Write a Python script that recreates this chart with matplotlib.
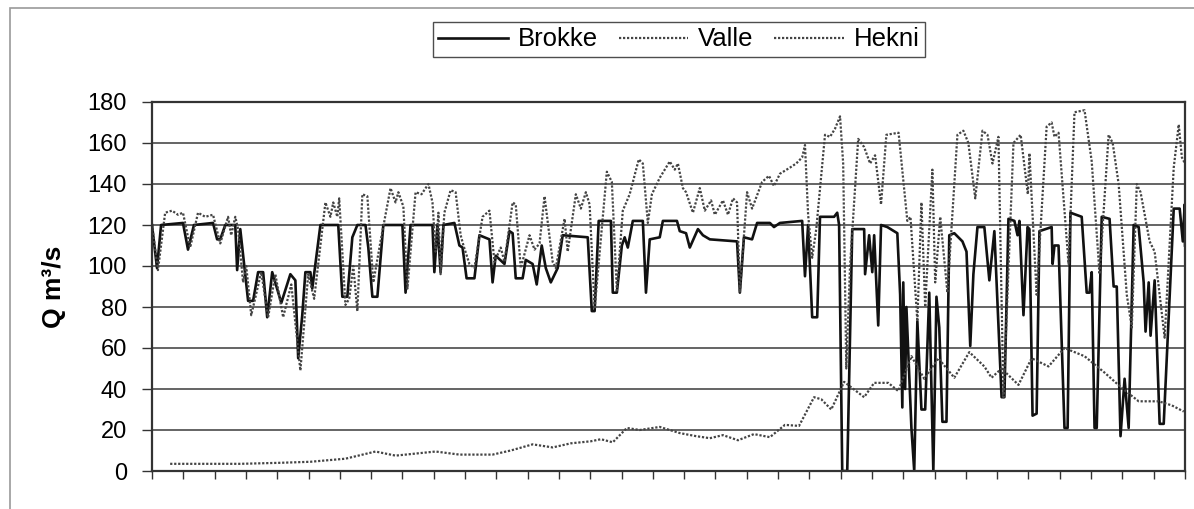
import matplotlib
matplotlib.use("Agg")
import matplotlib.pyplot as plt
from matplotlib.patches import Rectangle

plt.rcParams['font.family'] = ['Liberation Sans', 'DejaVu Sans']

# ---- data (x = day index, y = discharge m3/s) ----
brokke_x = [0, 1.6, 2.9, 9.9, 11.5, 13.4, 19.5, 20.8, 21.8, 23.4, 26.6, 27.2, 28.2, 30.7, 32.3,
            33.9, 35.5, 36.8, 38.4, 41.3, 44.2, 45.8, 46.7, 48.0, 49.0, 50.6, 51.2, 53.8, 59.5,
            60.8, 62.4, 64.0, 65.6, 68.2, 69.1, 70.4, 72.0, 73.9, 80.0, 81.0, 82.6, 89.6, 90.2,
            91.2, 92.2, 93.1, 96.6, 98.2, 99.2, 100.5, 103.0, 104.6, 107.8, 108.8, 109.8, 112.6,
            114.2, 115.2, 116.2, 118.4, 119.4, 121.6, 122.9, 124.5, 125.8, 127.4, 129.6, 131.2,
            139.2, 140.5, 141.4, 142.7, 146.6, 147.2, 148.5, 150.1, 151.0, 152.0, 153.6, 156.8,
            157.8, 159.0, 162.2, 163.2, 167.7, 168.6, 170.6, 171.8, 174.4, 176.0, 178.2, 186.9,
            187.8, 189.1, 191.7, 193.3, 197.4, 198.7, 200.6, 207.7, 208.6, 209.6, 210.9, 212.5,
            213.4, 217.9, 218.9, 219.5, 220.5, 222.1, 223.7, 227.5, 227.8, 229.1, 230.1, 230.7,
            232.0, 232.9, 234.9, 238.1, 239.0, 239.7, 240.0, 240.6, 241.0, 242.6, 243.5, 244.5,
            245.8, 247.0, 248.3, 249.6, 250.6, 251.5, 252.5, 253.8, 254.7, 256.3, 258.9, 260.2,
            261.4, 262.4, 263.7, 265.9, 267.5, 269.1, 271.4, 272.3, 273.6, 275.5, 276.5, 277.1,
            278.4, 279.7, 280.3, 281.3, 282.6, 283.5, 287.4, 287.7, 288.3, 289.6, 291.5, 292.5,
            293.4, 297.0, 298.6, 299.5, 300.2, 301.1, 301.8, 303.4, 305.9, 307.2, 308.2, 309.4,
            310.7, 312.0, 313.6, 315.2, 316.8, 317.4, 318.4, 319.0, 320.3, 321.9, 323.2, 326.4,
            328.3, 329.3, 329.9, 330.0]
brokke_y = [120, 99, 120, 121, 108, 120, 121, 113, 113, 120, 120, 98, 118, 83, 83,
            97, 97, 75, 97, 82, 96, 93, 55, 76, 97, 97, 89, 120, 120,
            85, 85, 114, 120, 120, 109, 85, 85, 120, 120, 87, 120, 120, 97,
            120, 97, 120, 121, 110, 109, 94, 94, 115, 113, 92, 105, 101,
            117, 116, 94, 94, 103, 101, 91, 110, 99, 92, 99, 115,
            114, 78, 78, 122, 122, 87, 87, 110, 114, 109, 122, 122,
            87, 113, 114, 122, 122, 117, 116, 109, 118, 115, 113, 112,
            87, 114, 113, 121, 121, 119, 121, 122, 95, 120, 75, 75,
            124, 124, 126, 120, 0, 0, 118, 118, 96, 115, 97, 115,
            71, 120, 119, 116, 86, 31, 92, 40, 80, 21, 0, 73,
            30, 30, 87, 0, 85, 70, 24, 24, 115, 116, 112, 107,
            61, 96, 119, 119, 93, 117, 36, 36, 123, 122, 115, 122,
            76, 119, 118, 27, 28, 117, 119, 101, 110, 110, 21, 21,
            126, 124, 87, 87, 97, 21, 21, 124, 123, 90, 90, 17,
            45, 21, 120, 119, 92, 68, 92, 66, 93, 23, 23, 128,
            128, 112, 130, 110]

valle_x = [0, 1.9, 4.2, 6.4, 8.3, 9.9, 12.2, 14.7, 17.0, 19.5, 21.8, 24.3, 25.3, 26.6, 27.5,
           29.1, 30.1, 31.7, 34.9, 37.1, 39.4, 41.9, 44.5, 47.4, 49.9, 51.8, 55.4, 57.0, 57.9,
           59.2, 59.8, 61.8, 63.0, 64.3, 65.6, 67.2, 68.8, 70.7, 73.0, 76.2, 77.8, 78.7, 80.3,
           81.6, 84.2, 86.1, 88.3, 89.6, 90.6, 91.5, 92.2, 93.4, 95.4, 97.0, 98.6, 99.5, 101.4,
           103.0, 105.6, 107.8, 109.4, 111.4, 112.6, 115.2, 116.2, 117.8, 120.6, 122.2, 123.8,
           125.4, 128.0, 129.0, 131.8, 132.8, 135.4, 137.0, 138.6, 139.8, 141.4, 145.3, 146.9,
           148.5, 150.4, 152.6, 155.5, 156.8, 158.4, 159.7, 162.2, 165.4, 167.0, 168.0, 169.6,
           170.6, 172.8, 175.0, 176.6, 178.6, 179.8, 182.4, 184.0, 185.6, 186.9, 187.8, 190.1,
           191.7, 194.9, 197.1, 198.7, 200.6, 203.8, 205.8, 207.7, 208.6, 209.6, 210.9, 212.2,
           215.0, 216.6, 218.2, 219.8, 220.8, 221.8, 223.0, 225.6, 227.5, 229.4, 231.0, 232.9,
           234.6, 238.5, 241.3, 242.3, 244.5, 245.8, 247.0, 249.3, 250.2, 251.8, 254.1, 257.3,
           259.2, 260.8, 263.0, 265.3, 266.9, 268.5, 270.4, 272.0, 275.2, 277.5, 279.8, 280.3,
           282.6, 285.8, 287.4, 288.3, 289.6, 292.8, 294.7, 297.9, 300.2, 302.7, 305.6, 306.9,
           308.8, 311.4, 313.0, 314.6, 315.8, 318.7, 320.3, 323.5, 326.4, 328.0, 329.0, 330.0]
valle_y = [120, 98, 126, 127, 125, 126, 109, 126, 124, 125, 111, 124, 115, 124, 118,
           92, 100, 76, 97, 75, 96, 75, 91, 49, 96, 84, 131, 124, 131,
           124, 133, 81, 84, 100, 78, 135, 134, 92, 112, 138, 131, 136, 129,
           89, 136, 135, 140, 131, 107, 126, 96, 126, 137, 136, 115, 110, 101,
           99, 124, 127, 102, 109, 102, 131, 130, 99, 115, 108, 111,
           134, 102, 99, 123, 107, 135, 128, 136, 130, 79, 146, 141,
           88, 127, 135, 152, 150, 121, 135, 143, 151, 147, 150, 138,
           136, 126, 138, 127, 132, 125, 132, 125, 133, 131, 87, 136,
           128, 141, 144, 139, 145, 148, 150, 153, 159, 125, 104, 118,
           164, 163, 167, 173, 150, 50, 100, 162, 158, 150, 154, 130,
           164, 165, 122, 124, 73, 131, 80, 147, 92, 124, 87, 164,
           166, 160, 133, 166, 164, 150, 163, 36, 160, 164, 135, 155,
           86, 168, 170, 163, 165, 101, 175, 176, 151, 96, 164, 160,
           140, 86, 70, 140, 136, 112, 107, 65, 148, 169, 153, 150]

hekni_x = [5.8, 15.4, 28.2, 41.0, 50.6, 61.8, 71.4, 77.8, 84.2, 90.6, 98.2, 108.8, 114.6,
           121.6, 128.0, 133.8, 140.2, 143.4, 147.2, 151.7, 155.8, 162.2, 168.6, 173.8, 178.2,
           182.4, 187.2, 192.3, 197.4, 202.2, 206.7, 211.5, 213.8, 217.0, 221.1, 227.5, 230.7,
           235.2, 238.4, 242.6, 246.7, 251.2, 256.3, 261.1, 265.9, 268.2, 271.4, 276.8, 281.0,
           286.4, 291.5, 297.9, 304.3, 309.8, 315.2, 321.6, 325.8, 329.6]
hekni_y = [3.5, 3.5, 3.5, 4, 4.5, 6, 9.5, 7.5, 8.5, 9.5, 8, 8, 10,
           13, 11.5, 13.5, 14.5, 15.5, 14, 21, 20, 21.5, 18.5, 17, 16,
           17.5, 15, 18, 16.5, 22.5, 22, 36, 35, 30, 43.5, 36, 43,
           43, 39, 56, 45, 55, 45.5, 58, 51, 45.5, 50, 42, 55,
           51, 60, 56, 48, 40.5, 34, 34, 32, 29]

y_ticks = [0, 20, 40, 60, 80, 100, 120, 140, 160, 180]
x_ticks = list(range(0, 331, 10))

W, H = 1194, 509
fig = plt.figure(figsize=(W / 100, H / 100), dpi=100)

# outer chart border
fig.patches.append(Rectangle((10 / W, -0.1), 1.2, 1.1 - 8 / H, transform=fig.transFigure,
                             fill=False, edgecolor='#9a9a9a', lw=1.2))

ax = fig.add_axes([152 / W, 38 / H, (1185 - 152) / W, (471 - 102) / H])

ax.set_xlim(0, 330)
ax.set_ylim(0, 180)
ax.set_yticks(y_ticks)
ax.set_xticks(x_ticks)
ax.set_xticklabels([])
ax.yaxis.grid(True, color='#4a4a4a', lw=1.2)
ax.set_axisbelow(True)

ax.tick_params(axis='y', length=7, width=1, pad=11, labelsize=17, color='#333')
ax.tick_params(axis='x', length=6, width=1, color='#333')

for s in ['left', 'top', 'right', 'bottom']:
    ax.spines[s].set_linestyle((0, (1, 1)))
    ax.spines[s].set_linewidth(1.6)
    ax.spines[s].set_color('#333')

l1, = ax.plot(brokke_x, brokke_y, color='#111111', lw=1.9, label='Brokke')
l2, = ax.plot(valle_x, valle_y, color='#444444', lw=1.6, ls=(0, (1, 0.8)), label='Valle')
l3, = ax.plot(hekni_x, hekni_y, color='#444444', lw=1.6, ls=(0, (1, 0.8)), label='Hekni')

fig.text(54 / W, 1 - 287 / H, 'Q m³/s', rotation=90, ha='center', va='center',
         fontsize=19, fontweight='bold')

leg = fig.legend(handles=[l1, l2, l3], loc='center', bbox_to_anchor=(679 / W, 1 - 39.5 / H),
                 ncol=3, fontsize=18.5, frameon=True, fancybox=False, shadow=False,
                 handlelength=2.7, handletextpad=0.4, columnspacing=0.8,
                 borderpad=0.2, borderaxespad=0)
leg.get_frame().set_edgecolor('#222')
leg.get_frame().set_linewidth(1.0)

fig.savefig('out.png', dpi=100)
